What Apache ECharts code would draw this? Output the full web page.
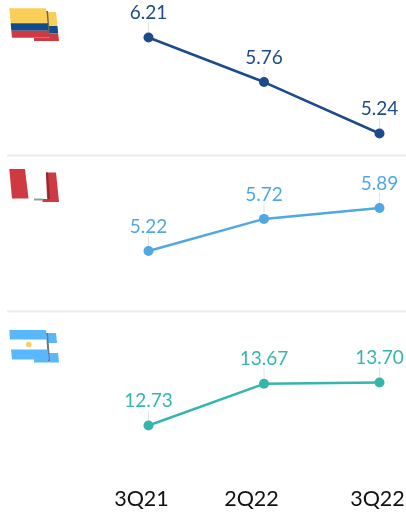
<!DOCTYPE html>
<html><head><meta charset="utf-8">
<style>html,body{margin:0;padding:0;background:#fff}#c{width:406px;height:512px}</style>
<script src="https://cdn.jsdelivr.net/npm/echarts@6/dist/echarts.min.js"></script>
</head><body><div id="c"></div>
<script>
const categories = ['3Q21', '2Q22', '3Q22'];
const colombia = [6.21, 5.76, 5.24];
const peru = [5.22, 5.72, 5.89];
const argentina = [12.73, 13.67, 13.70];

const chart = echarts.init(document.getElementById('c'), null, {renderer: 'canvas'});
const FONT = 'Lato';
const panels = [
  {data: colombia, color: '#1d4a8a', top: 37.5, bottom: 133.5, min: 5.24, max: 6.21},
  {data: peru, color: '#4fa8e4', top: 208, bottom: 251, min: 5.22, max: 5.89},
  {data: argentina, color: '#35b6ad', top: 382.5, bottom: 425.5, min: 12.73, max: 13.70}
];
const labelPad = [14, 25, 4];

const poly = (points, fill, extra) => Object.assign({
  type: 'polygon', silent: true, shape: {points}, style: {fill}
}, extra || {});

const flagElements = [
  // Colombia
  poly([[47,12],[56,12],[57.5,26],[49,26]], '#f9cf5a'),
  poly([[49,26],[57.5,26],[58.2,33.5],[49,33.5]], '#0f4c8c'),
  poly([[49,33.5],[58.2,33.5],[59,41],[34,41],[34,38],[49,38]], '#cf3a42'),
  poly([[46,11],[48,11],[50,37],[48,37]], '#6b6a50'),
  poly([[9.3,8.3],[46,8.3],[47.6,23.3],[10.7,23.3]], '#f9cf5a'),
  poly([[10.7,23.3],[47.6,23.3],[48.3,30.7],[11.3,30.7]], '#0f4c8c'),
  poly([[11.3,30.7],[48.3,30.7],[48.8,37.7],[12,37.7]], '#cf3a42'),
  // Peru
  poly([[9.3,169],[25,169],[28.5,198.5],[12,198.5]], '#cf3a42'),
  poly([[46,172.5],[56,172.5],[59,202],[42.5,202],[42.5,199],[47,199]], '#cf3a42'),
  poly([[46,172.5],[48,172.5],[50,199],[48,199]], '#8d2830'),
  poly([[34,198.5],[43,198.5],[43,200.5],[34,200.5]], '#9a9a9a'),
  // Argentina
  poly([[46,333],[56,333],[57,343],[48,343]], '#58b8fb'),
  poly([[48,353],[58,353],[59,362.5],[34,362.5],[34,359],[49,359]], '#58b8fb'),
  poly([[46,333],[48,333],[50,361],[48,361]], '#6a7a88'),
  poly([[9.3,330],[46,330],[47,339.5],[10,339.5]], '#58b8fb'),
  poly([[11,349.5],[47.5,349.5],[49,359.5],[12,359.5]], '#58b8fb'),
  {type: 'circle', silent: true, shape: {cx: 28.7, cy: 344.5, r: 2.8}, style: {fill: '#f9cf5a'}}
];
const sepElements = [155.5, 311.5].map(y => ({
  type: 'line', silent: true,
  shape: {x1: 7, y1: y, x2: 406, y2: y},
  style: {stroke: '#ebebeb', lineWidth: 2}
}));

chart.setOption({
  animation: false,
  backgroundColor: '#fff',
  graphic: {elements: sepElements.concat(flagElements)},
  grid: panels.map(p => ({left: 148.5, right: 26.5, top: p.top, height: p.bottom - p.top, outerBoundsMode: 'none', containLabel: false})),
  xAxis: panels.map((p, i) => ({
    type: 'category', gridIndex: i, boundaryGap: false,
    data: categories.map((c, k) => ({value: c, textStyle: {padding: [0, labelPad[k], 0, 0]}})),
    axisLine: {show: false}, axisTick: {show: false}, splitLine: {show: false},
    axisLabel: {show: i === 2, interval: 0, hideOverlap: false, color: '#111', fontFamily: FONT, fontSize: 21.5, margin: 63}
  })),
  yAxis: panels.map((p, i) => ({
    type: 'value', gridIndex: i, min: p.min, max: p.max, show: false, splitLine: {show: false}
  })),
  series: panels.map((p, i) => ({
    type: 'line', xAxisIndex: i, yAxisIndex: i, data: p.data,
    symbol: 'circle', symbolSize: 10, showSymbol: true, clip: false,
    lineStyle: {color: p.color, width: 2.5},
    itemStyle: {color: p.color},
    label: {show: true, position: 'top', distance: 3, color: p.color, fontFamily: FONT, fontSize: 19,
      formatter: o => o.value.toFixed(2)},
    labelLayout: {dy: -7},
    labelLine: {show: true, lineStyle: {color: '#e2e2e2', width: 1}}
  }))
});
</script></body></html>
